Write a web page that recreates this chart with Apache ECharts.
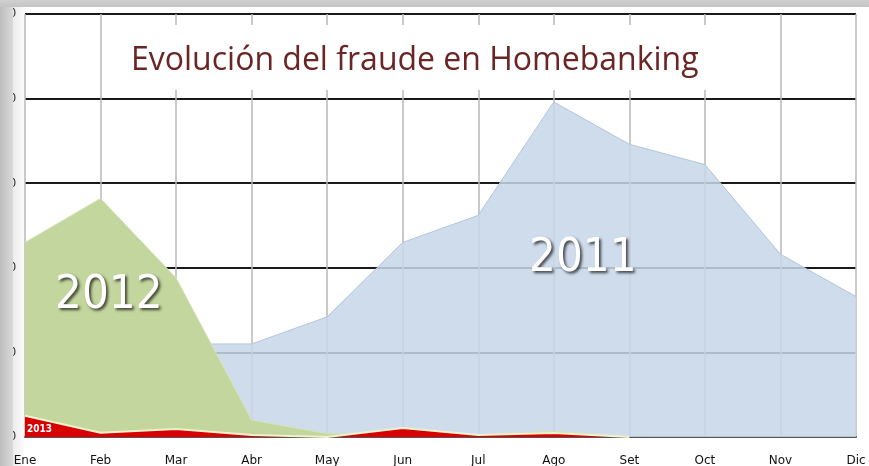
<!DOCTYPE html>
<html>
<head>
<meta charset="utf-8">
<script src="https://cdn.jsdelivr.net/npm/echarts@6/dist/echarts.min.js"></script>
<style>
  html, body { margin: 0; padding: 0; background: #fff; }
  #chart { width: 869px; height: 466px; }
</style>
</head>
<body>
<div id="chart"></div>
<script>
  // meses
  const meses = ['Ene', 'Feb', 'Mar', 'Abr', 'May', 'Jun', 'Jul', 'Ago', 'Set', 'Oct', 'Nov', 'Dic'];
  // valores (escala 0-250)
  const fraude2011 = [50, 52, 55, 55, 71, 115, 131, 198, 173, 161, 108, 83];
  const fraude2012 = [115, 141, 94, 10, 2, 1, 1, 3.5, 0, null, null, null];
  const fraude2013 = [12.5, 2.5, 4.7, 1.2, 0, 5.3, 1.2, 2.4, 0, null, null, null];

  const chart = echarts.init(document.getElementById('chart'));

  const option = {
    backgroundColor: '#fff',
    animation: false,
    title: {
      text: 'Evolución del fraude en Homebanking',
      left: 131,
      top: 45,
      padding: 0,
      textStyle: { color: '#6b2525', fontSize: 32, fontWeight: 'normal', fontFamily: 'Open Sans' }
    },
    grid: { left: 25, right: 13, top: 14, bottom: 29, outerBoundsMode: 'none', containLabel: false },
    xAxis: {
      type: 'category',
      data: meses,
      boundaryGap: false,
      axisLine: { show: true, lineStyle: { color: '#555', width: 2 } },
      axisTick: { show: false },
      axisLabel: { color: '#111', fontSize: 12, fontFamily: 'DejaVu Sans', margin: 18 },
      splitLine: { show: true, lineStyle: { color: '#b8b8b8', width: 1.5 } }
    },
    yAxis: {
      type: 'value',
      min: 0, max: 250, interval: 50,
      axisLine: { show: false },
      axisTick: { show: false },
      axisLabel: { color: '#222', fontSize: 12, margin: 9 },
      splitLine: { lineStyle: { color: '#1a1a1a', width: 2 } }
    },
    series: [
      {
        name: '2011', type: 'line', data: fraude2011, symbol: 'none',
        lineStyle: { color: '#b3c6dd', width: 1 },
        areaStyle: { color: 'rgba(199,214,233,0.86)', opacity: 1 },
        z: 2
      },
      {
        name: '2012', type: 'line', data: fraude2012, symbol: 'none',
        lineStyle: { color: '#d6e3b8', width: 1 },
        areaStyle: { color: '#c3d69d', opacity: 1 },
        z: 3
      },
      {
        name: '2013', type: 'line', data: fraude2013, symbol: 'none',
        lineStyle: { color: '#f4f2cc', width: 2 },
        areaStyle: { color: '#d90000', opacity: 1 },
        z: 4
      }
    ],
    graphic: [
      // recuadro blanco detrás del título
      {
        type: 'rect', z: 1, silent: true,
        shape: { x: 110, y: 25, width: 610, height: 65 },
        style: { fill: '#fff' }
      },
      // borde gris izquierdo y superior de la imagen
      {
        type: 'rect', z: 100,
        shape: { x: 0, y: 0, width: 13, height: 466 },
        style: { fill: new echarts.graphic.LinearGradient(0, 0, 1, 0, [
          { offset: 0, color: '#bdbdbd' }, { offset: 1, color: '#dadada' }]) }
      },
      {
        type: 'rect', z: 0,
        shape: { x: 13, y: 0, width: 11, height: 466 },
        style: { fill: new echarts.graphic.LinearGradient(0, 0, 1, 0, [
          { offset: 0, color: '#ececec' }, { offset: 1, color: '#fbfbfb' }]) }
      },
      {
        type: 'rect', z: 101,
        shape: { x: 0, y: 0, width: 869, height: 7 },
        style: { fill: new echarts.graphic.LinearGradient(0, 0, 0, 1, [
          { offset: 0, color: '#d0d0d0' }, { offset: 1, color: '#c4c4c4' }]) }
      },
      {
        type: 'text', left: 55, top: 272, z: 50,
        style: {
          text: '2012', fill: '#fff', fontSize: 47, fontFamily: 'Liberation Sans Narrow, DejaVu Sans Condensed, Open Sans',
          textShadowColor: 'rgba(0,0,0,0.7)', textShadowBlur: 3, textShadowOffsetX: 2, textShadowOffsetY: 2
        }
      },
      {
        type: 'text', left: 529, top: 235, z: 50,
        style: {
          text: '2011', fill: '#fff', fontSize: 47, fontFamily: 'Liberation Sans Narrow, DejaVu Sans Condensed, Open Sans',
          textShadowColor: 'rgba(0,0,0,0.7)', textShadowBlur: 3, textShadowOffsetX: 2, textShadowOffsetY: 2
        }
      },
      {
        type: 'text', left: 27, top: 424, z: 50,
        style: {
          text: '2013', fill: '#fff', fontSize: 10, fontWeight: 'bold', fontFamily: 'DejaVu Sans Condensed, DejaVu Sans'
        }
      }
    ]
  };

  chart.setOption(option);
</script>
</body>
</html>
